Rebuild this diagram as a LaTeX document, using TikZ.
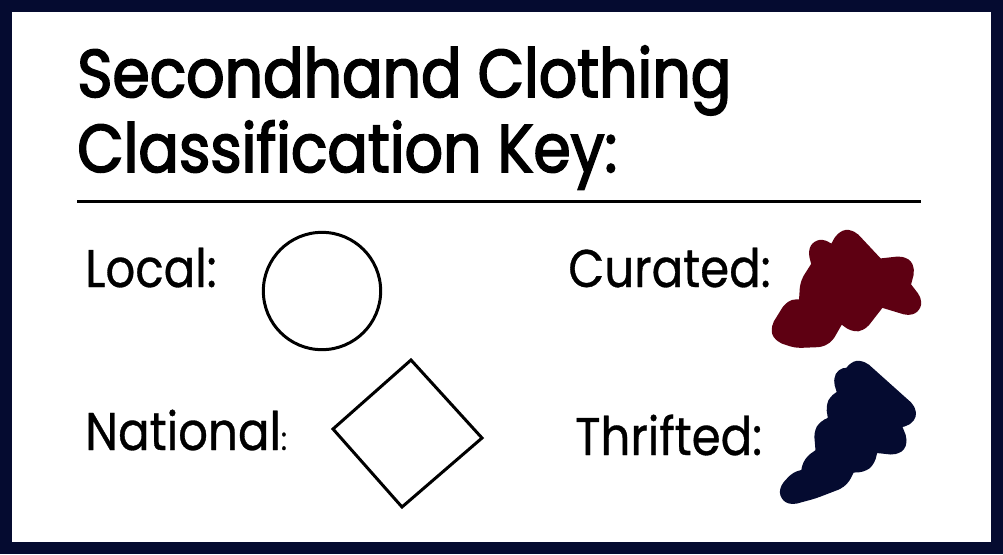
\documentclass[tikz,border=0pt]{standalone}
\usepackage{fontspec}
\setmainfont{Poppins}[FakeStretch=0.88, FakeBold=0.6]
\usepackage{xcolor}
\usepackage{tikz}
\usetikzlibrary{positioning,calc,shapes.geometric}
\definecolor{navyblue}{HTML}{050B30}
\definecolor{maroon}{HTML}{5E0012}
\newfontfamily\titlefont[FakeStretch=0.89, FakeBold=2.5]{Poppins}

\tikzset{
  keytitle/.style={anchor=base west, inner sep=0pt, font=\titlefont\fontsize{50.6pt}{60pt}\selectfont},
  keylabel/.style={anchor=base west, inner sep=0pt, font=\fontsize{39.8pt}{48pt}\selectfont},
  outline/.style={black, line width=2.25pt},
  scribble/.style={line width=18pt, line join=round, line cap=round, rounded corners=3pt}
}

\begin{document}
\begin{tikzpicture}[x=0.75pt, y=-0.75pt]
\useasboundingbox (0,0) rectangle (1003,554);
\fill[white] (0,0) rectangle (1003,554);
\draw[navyblue, line width=9pt] (6,6) rectangle (997,548);

% title and rule
\node[keytitle] (title1) at (77,97) {Secondhand Clothing};
\node[keytitle] (title2) at (77,172) {Classification Key:};
\coordinate (ruleL) at (77,201);
\coordinate (ruleR) at (921,201);
\draw[black, line width=2.25pt] (ruleL) -- (ruleR);

% labels
\node[keylabel] (local) at (85,287) {Local:};
\node[keylabel] (national) at (85,450) {National{\fontsize{24pt}{28pt}\selectfont:}};
\node[keylabel] (curated) at (568,287) {Curated:};
\node[keylabel] (thrifted) at (575,455) {Thrifted:};

% local: circle
\node[circle, draw, outline, minimum size=88pt, inner sep=0pt] (circ) at (322,291) {};

% national: tilted square
\draw[outline, line join=miter] (411,360) -- (482,438) -- (402,507) -- (333,429) -- cycle;

% curated scribble
\filldraw[scribble, draw=maroon, fill=maroon]
  (782,331) -- (795,310) -- (810,316) -- (812,285) -- (824,266) -- (820,250) -- (835,262)
  -- (847,240) -- (876,271) -- (903,268) -- (898,287) -- (911,304) -- (878,294)
  -- (857,321) -- (838,307) -- (822,335) -- (797,336) -- cycle;

% thrifted scribble
\filldraw[scribble, draw=navyblue, fill=navyblue]
  (790,493) -- (800,482) -- (812,481) -- (814,466) -- (828,456) -- (826,432) -- (841,425)
  -- (838,405) -- (851,398) -- (845,378) -- (852,382) -- (858,371) -- (906,414)
  -- (886,418) -- (896,443) -- (868,440) -- (863,460) -- (846,461) -- (838,477)
  -- (812,487) -- cycle;
\end{tikzpicture}
\end{document}
